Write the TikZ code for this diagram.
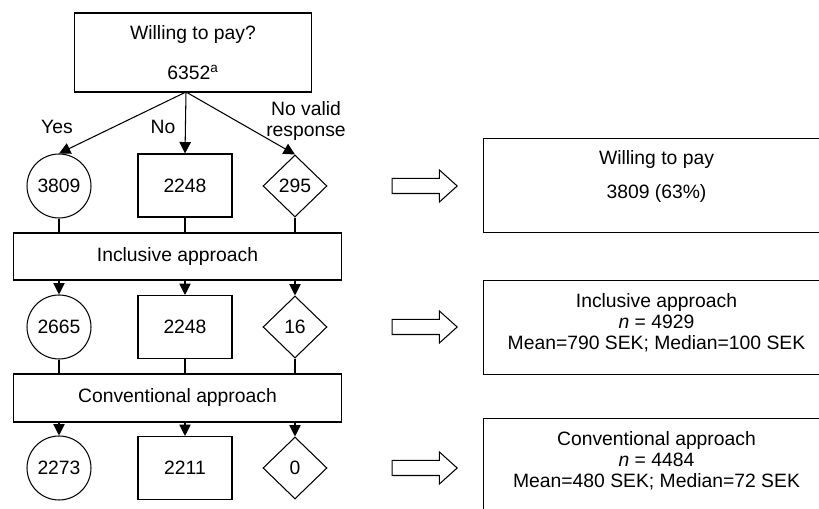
\documentclass[tikz,border=0pt]{standalone}
\usepackage{fontspec}
\setmainfont{Liberation Sans}
\usetikzlibrary{shapes,arrows.meta}

\tikzset{
  box/.style={draw, rectangle, inner sep=0pt},
  ring/.style={draw, circle, inner sep=0pt, minimum size=1.28cm},
  rhomb/.style={draw, diamond, inner sep=0pt, minimum width=1.28cm, minimum height=1.24cm},
  fatarrow/.style={draw, single arrow, inner xsep=0pt, inner ysep=0.14cm, minimum height=1.3cm,
    minimum width=0.62cm, single arrow head extend=0.17cm, single arrow tip angle=84},
  result/.style={draw, rectangle, inner sep=0pt, align=center,
    minimum width=6.94cm, minimum height=1.88cm}
}

\begin{document}
\begin{tikzpicture}[x=0.02cm, y=-0.02cm, line width=0.6pt,
  font=\fontsize{11}{12.2}\selectfont, >={Triangle[length=6.5pt,width=6.5pt]}]
%%%
\useasboundingbox (0,0) rectangle (819,509);
\clip (0,0) rectangle (819,509);

\node[box, minimum width=4.74cm, minimum height=1.58cm, align=center] (Q) at (193,52.5)
  {Willing to pay?\\[10.6pt]6352\textsuperscript{a}};
\coordinate (apex) at (186,92);

% first row
\node[ring] (Y1) at (59,186) {3809};
\node[box, minimum width=1.88cm, minimum height=1.26cm] (N1) at (185,185.5) {2248};
\node[rhomb] (V1) at (295,186) {295};

\node (Ly) at (57,127) {Yes};
\node (Ln) at (163,127) {No};
\node[align=center] (Lv) at (306,121) {No valid\\response};

\node[box, minimum width=6.58cm, minimum height=0.94cm] (Inc) at (177.5,256.5) {Inclusive approach};

% second row
\node[ring] (Y2) at (59,327) {2665};
\node[box, minimum width=1.88cm, minimum height=1.26cm] (N2) at (185,327) {2248};
\node[rhomb] (V2) at (295,327) {16};

\node[box, minimum width=6.58cm, minimum height=0.96cm] (Conv) at (177.5,398) {Conventional approach};

% third row
\node[ring] (Y3) at (59,468) {2273};
\node[box, minimum width=1.88cm, minimum height=1.26cm] (N3) at (185,468) {2211};
\node[rhomb] (V3) at (295,468) {0};

% arrows
\draw[->] (apex) -- (Y1.north);
\draw[->] (apex) -- (N1.north);
\draw[->] (apex) -- (V1.north);

\draw (Y1.south) -- (Y1.south |- Inc.north);
\draw (N1.south) -- (N1.south |- Inc.north);
\draw (V1.south) -- (V1.south |- Inc.north);

\draw[->] (Y2.north |- Inc.south) -- (Y2.north);
\draw[->] (N2.north |- Inc.south) -- (N2.north);
\draw[->] (V2.north |- Inc.south) -- (V2.north);

\draw (Y2.south) -- (Y2.south |- Conv.north);
\draw (N2.south) -- (N2.south |- Conv.north);
\draw (V2.south) -- (V2.south |- Conv.north);

\draw[->] (Y3.north |- Conv.south) -- (Y3.north);
\draw[->] (N3.north |- Conv.south) -- (N3.north);
\draw[->] (V3.north |- Conv.south) -- (V3.north);

% results on the right
\node[fatarrow] (A1) at (420.5,186) {};
\node[fatarrow] (A2) at (420.5,327) {};
\node[fatarrow] (A3) at (420.5,468) {};

\node[result, text depth=12.5pt] (R1) at (656.5,185.5)
  {Willing to pay\\[6.6pt]3809 (63\%)};
\node[result, text depth=6.8pt] (R2) at (656.5,327.5)
  {Inclusive approach\\\textit{n} = 4929\\Mean=790 SEK; Median=100 SEK};
\node[result, text depth=6.8pt] (R3) at (656.5,465.5)
  {Conventional approach\\\textit{n} = 4484\\Mean=480 SEK; Median=72 SEK};
%%%
\end{tikzpicture}
\end{document}
